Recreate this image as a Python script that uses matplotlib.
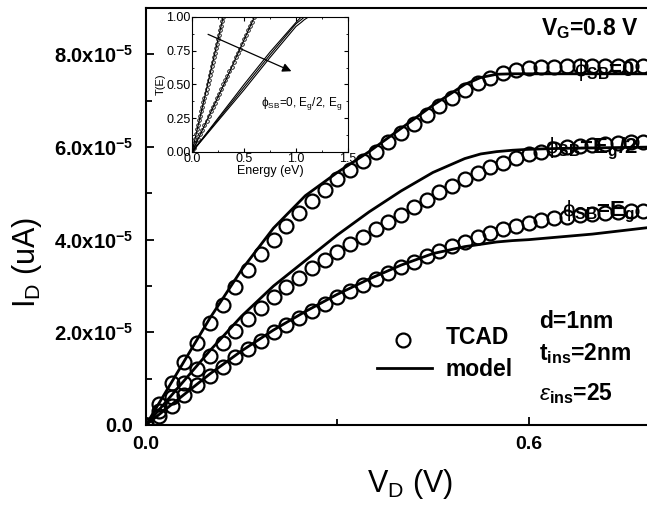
import numpy as np
import matplotlib
matplotlib.use("Agg")
from matplotlib import pyplot as plt
from matplotlib.ticker import MultipleLocator

plt.rcParams['font.family'] = ['Liberation Sans', 'DejaVu Sans']
plt.rcParams['mathtext.fontset'] = 'custom'
plt.rcParams['mathtext.rm'] = 'Liberation Sans'
plt.rcParams['mathtext.it'] = 'Liberation Sans:italic'
plt.rcParams['mathtext.bf'] = 'Liberation Sans:bold'

# TCAD points (V_D step 0.02 V), I_D in units of 1e-5
vd_tcad = [0.00, 0.02, 0.04, 0.06, 0.08, 0.10, 0.12, 0.14, 0.16, 0.18,
           0.20, 0.22, 0.24, 0.26, 0.28, 0.30, 0.32, 0.34, 0.36, 0.38,
           0.40, 0.42, 0.44, 0.46, 0.48, 0.50, 0.52, 0.54, 0.56, 0.58,
           0.60, 0.62, 0.64, 0.66, 0.68, 0.70, 0.72, 0.74, 0.76, 0.78, 0.80]
id_tcad_0 = [0.00, 0.45, 0.90, 1.35, 1.78, 2.20, 2.60, 2.98, 3.34, 3.68,
             4.00, 4.30, 4.58, 4.84, 5.08, 5.30, 5.50, 5.70, 5.90, 6.10,
             6.30, 6.50, 6.70, 6.88, 7.05, 7.22, 7.38, 7.50, 7.60, 7.66,
             7.70, 7.72, 7.73, 7.74, 7.74, 7.75, 7.75, 7.75, 7.75, 7.75, 7.75]
id_tcad_half = [0.00, 0.30, 0.60, 0.90, 1.20, 1.48, 1.76, 2.02, 2.28, 2.52,
                2.76, 2.98, 3.18, 3.38, 3.56, 3.74, 3.90, 4.06, 4.22, 4.38,
                4.54, 4.70, 4.86, 5.02, 5.16, 5.30, 5.44, 5.56, 5.66, 5.76,
                5.84, 5.90, 5.95, 5.99, 6.02, 6.05, 6.07, 6.09, 6.10, 6.11, 6.12]
id_tcad_g = [0.00, 0.20, 0.42, 0.64, 0.86, 1.06, 1.26, 1.46, 1.64, 1.82,
             2.00, 2.16, 2.32, 2.47, 2.62, 2.76, 2.90, 3.03, 3.16, 3.28,
             3.40, 3.52, 3.64, 3.75, 3.86, 3.96, 4.06, 4.14, 4.22, 4.30,
             4.36, 4.42, 4.46, 4.50, 4.53, 4.56, 4.58, 4.60, 4.61, 4.62, 4.63]

# model lines
vd_model = [0.00, 0.05, 0.10, 0.15, 0.20, 0.25, 0.30, 0.35, 0.40, 0.45,
            0.50, 0.525, 0.55, 0.575, 0.60, 0.65, 0.70, 0.75, 0.80]
id_model_0 = [0.00, 1.15, 2.30, 3.35, 4.25, 4.95, 5.45, 5.90, 6.40, 6.90,
              7.35, 7.50, 7.57, 7.58, 7.58, 7.58, 7.58, 7.58, 7.58]
id_model_half = [0.00, 0.80, 1.60, 2.35, 3.00, 3.55, 4.10, 4.60, 5.05, 5.45,
                 5.75, 5.85, 5.90, 5.93, 5.95, 5.97, 5.98, 5.99, 6.00]
id_model_g = [0.00, 0.55, 1.10, 1.60, 2.05, 2.45, 2.82, 3.15, 3.45, 3.70,
              3.85, 3.90, 3.95, 3.98, 4.00, 4.06, 4.12, 4.20, 4.28]

# inset: transmission T(E)
e_tcad_0 = [0.00, 0.01, 0.02, 0.03, 0.04, 0.05, 0.06, 0.07, 0.08, 0.09,
            0.10, 0.11, 0.12, 0.13, 0.14, 0.15, 0.16, 0.17, 0.18, 0.19,
            0.20, 0.21, 0.22, 0.23, 0.24, 0.25, 0.26, 0.27, 0.28, 0.29, 0.30]
t_tcad_0 = [0.00, 0.03, 0.065, 0.10, 0.135, 0.17, 0.20, 0.235, 0.27, 0.30,
            0.335, 0.37, 0.40, 0.435, 0.47, 0.50, 0.535, 0.57, 0.60, 0.635,
            0.67, 0.70, 0.735, 0.77, 0.80, 0.835, 0.87, 0.90, 0.935, 0.97, 1.00]
e_tcad_half = [0.00, 0.02, 0.04, 0.06, 0.08, 0.10, 0.12, 0.14, 0.16, 0.18,
               0.20, 0.22, 0.24, 0.26, 0.28, 0.30, 0.32, 0.34, 0.36, 0.38,
               0.40, 0.42, 0.44, 0.46, 0.48, 0.50, 0.52, 0.54, 0.56, 0.58, 0.60]
t_tcad_half = [0.00, 0.03, 0.065, 0.10, 0.13, 0.165, 0.20, 0.23, 0.265, 0.30,
               0.33, 0.365, 0.40, 0.43, 0.465, 0.50, 0.53, 0.565, 0.60, 0.63,
               0.665, 0.70, 0.735, 0.765, 0.80, 0.835, 0.865, 0.90, 0.935, 0.965, 1.00]
e_line_g = [0.00, 0.25, 0.50, 0.75, 1.00, 1.05, 1.08, 1.12, 1.50]
t_line_g1 = [0.00, 0.25, 0.50, 0.74, 0.96, 1.00, 1.00, 1.00, 1.00]
t_line_g2 = [0.00, 0.24, 0.48, 0.72, 0.95, 0.98, 1.00, 1.00, 1.00]
t_line_g3 = [0.00, 0.23, 0.46, 0.70, 0.93, 0.96, 0.98, 1.00, 1.00]
e_line_half = [0.00, 0.30, 0.60, 1.50]
t_line_half = [0.00, 0.49, 1.00, 1.00]
e_line_0 = [0.00, 0.30, 1.50]
t_line_0 = [0.00, 1.00, 1.00]

fig = plt.figure(figsize=(6.47, 5.08), dpi=100)
ax = fig.add_axes([146/647, 83/508, 510/647, 417/508])

scale = 1e-5
ms = dict(marker='o', ls='none', mfc='none', mec='black', ms=10, mew=1.6)
for y in (id_tcad_0, id_tcad_half, id_tcad_g):
    ax.plot(vd_tcad, np.array(y)*scale, **ms)
for y in (id_model_0, id_model_half, id_model_g):
    ax.plot(vd_model, np.array(y)*scale, color='black', lw=2)

ax.set_xlim(0, 0.8)
ax.set_ylim(0, 9e-5)
ax.xaxis.set_minor_locator(MultipleLocator(0.3))
ax.yaxis.set_minor_locator(MultipleLocator(1e-5))
ax.set_yticks([0, 2e-5, 4e-5, 6e-5, 8e-5])
ax.set_yticklabels(['0.0'] + [r'%d.0x10$^{\mathbf{-5}}$' % k for k in (2, 4, 6, 8)],
                   fontweight='bold', fontsize=14.5)
ax.set_xticks([0, 0.6])
ax.set_xticklabels(['0.0', '0.6'], fontweight='bold', fontsize=14)
ax.tick_params(which='both', direction='in', width=1.3)
ax.tick_params(which='major', length=6)
ax.tick_params(which='minor', length=4)
ax.tick_params(axis='x', pad=8)
ax.tick_params(axis='y', pad=9)
ax.spines['right'].set_visible(False)
for s in ('left', 'bottom', 'top'):
    ax.spines[s].set_linewidth(1.5)

ax.set_xlabel(r'V$_\mathrm{D}$ (V)', fontsize=22, va='top')
ax.set_ylabel(r'I$_\mathrm{D}$ (uA)', fontsize=22)
ax.xaxis.set_label_coords(0.518, -0.1)
ax.yaxis.set_label_coords(-0.2, 0.39)

# legend drawn by hand
ax.plot([0.403], [1.84e-5], **ms)
ax.plot([0.362, 0.448], [1.23e-5, 1.23e-5], color='black', lw=2)
ax.text(0.47, 1.88e-5, 'TCAD', fontsize=16.5, fontweight='bold', va='center')
ax.text(0.47, 1.2e-5, 'model', fontsize=16.5, fontweight='bold', va='center')
ax.text(0.617, 2.23e-5, 'd=1nm', fontsize=16.5, fontweight='bold', va='center')
ax.text(0.617, 1.55e-5, r't$_{\mathbf{ins}}$=2nm', fontsize=16.5, fontweight='bold', va='center')
ax.text(0.617, 0.68e-5, r'$\varepsilon_{\mathbf{ins}}$=25', fontsize=16.5, fontweight='bold', va='center')
ax.text(0.62, 8.55e-5, r'V$_{\mathbf{G}}$=0.8 V', fontsize=16.5, fontweight='bold', va='center')
ax.text(0.672, 7.65e-5, r'$\mathrm{\phi}_{\mathbf{SB}}$=0', fontsize=16, fontweight='bold', va='center')
ax.text(0.626, 5.95e-5, r'$\mathrm{\phi}_{\mathbf{SB}}$=E$_{\mathbf{g}}$/2', fontsize=16, fontweight='bold', va='center')
ax.text(0.652, 4.6e-5, r'$\mathrm{\phi}_{\mathbf{SB}}$=E$_{\mathbf{g}}$', fontsize=16, fontweight='bold', va='center')

# inset
ins = fig.add_axes([192/647, (508-152)/508, 156/647, 135/508])
ins.set_facecolor('white')
ins.plot(e_tcad_0, t_tcad_0, marker='o', ls='none', mfc='none', mec='black', ms=2.6, mew=0.6)
ins.plot(e_tcad_half, t_tcad_half, marker='o', ls='none', mfc='none', mec='black', ms=2.6, mew=0.6)
ins.plot(e_line_0, t_line_0, color='black', lw=0.8)
ins.plot(e_line_half, t_line_half, color='black', lw=0.8)
for t in (t_line_g1, t_line_g2, t_line_g3):
    ins.plot(e_line_g, t, color='black', lw=0.8)
ins.set_xlim(0, 1.5)
ins.set_ylim(0, 1.0)
ins.set_xticks([0, 0.5, 1.0, 1.5])
ins.set_yticks([0, 0.25, 0.5, 0.75, 1.0])
ins.set_xticklabels(['0.0', '0.5', '1.0', '1.5'])
ins.set_yticklabels(['0.00', '0.25', '0.50', '0.75', '1.00'])
ins.xaxis.set_minor_locator(MultipleLocator(0.25))
ins.yaxis.set_minor_locator(MultipleLocator(0.125))
ins.tick_params(which='both', direction='in', labelsize=9, pad=1, top=True, right=True)
ins.tick_params(which='major', length=3)
ins.tick_params(which='minor', length=1.5)
ins.set_xlabel('Energy (eV)', fontsize=9, labelpad=0)
ins.set_ylabel('T(E)', fontsize=8, labelpad=0)
ins.annotate('', xy=(0.98, 0.59), xytext=(0.13, 0.88),
             arrowprops=dict(arrowstyle='-|>', color='black', lw=0.9, mutation_scale=13))
ins.text(0.66, 0.34, r'$\mathrm{\phi}_{\mathrm{SB}}$=0, E$_\mathrm{g}$/2, E$_\mathrm{g}$', fontsize=8.5)

fig.savefig('out.png', dpi=100)
